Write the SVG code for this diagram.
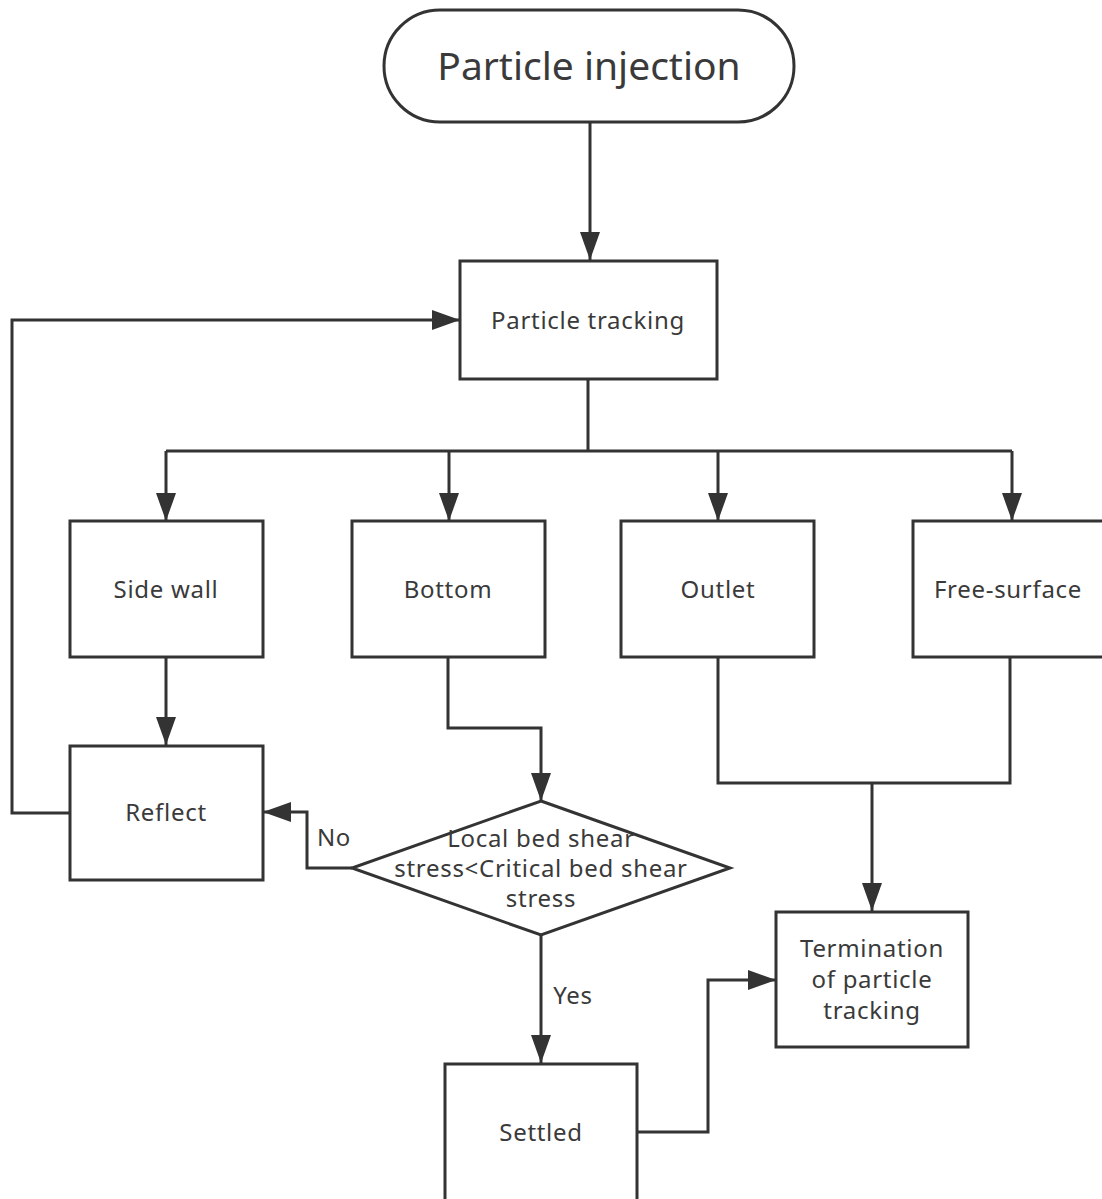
<svg xmlns="http://www.w3.org/2000/svg" width="1102" height="1199" viewBox="0 0 1102 1199">
<defs>
<style>
.box{fill:#fff;stroke:#333;stroke-width:3}
.ln{fill:none;stroke:#333;stroke-width:3}
.t{font-family:"Noto Sans","Open Sans","DejaVu Sans",sans-serif;font-size:24px;letter-spacing:0.7px;fill:#3a3a3a;text-anchor:middle}
.big{font-size:39px;letter-spacing:0px}
</style>
<marker id="arr" markerUnits="userSpaceOnUse" markerWidth="30" markerHeight="22" refX="28" refY="10" orient="auto">
<path d="M0,0 L28,10 L0,20 Z" fill="#333"/>
</marker>
</defs>
<rect width="1102" height="1199" fill="#fff"/>
<g id="connectors">
<path class="ln" d="M590,122 V260" marker-end="url(#arr)"/>
<path class="ln" d="M588,379 V451"/>
<path class="ln" d="M166,451 H1012"/>
<path class="ln" d="M166,451 V521" marker-end="url(#arr)"/>
<path class="ln" d="M449,451 V521" marker-end="url(#arr)"/>
<path class="ln" d="M718,451 V521" marker-end="url(#arr)"/>
<path class="ln" d="M1012,451 V521" marker-end="url(#arr)"/>
<path class="ln" d="M166,657 V745" marker-end="url(#arr)"/>
<path class="ln" d="M70,813 H12 V320 H460" marker-end="url(#arr)"/>
<path class="ln" d="M448,657 V728 H541 V801" marker-end="url(#arr)"/>
<path class="ln" d="M352,868 H307 V812 H263" marker-end="url(#arr)"/>
<path class="ln" d="M541,935 V1063" marker-end="url(#arr)"/>
<path class="ln" d="M718,657 V783 H1010 V657"/>
<path class="ln" d="M872,783 V911" marker-end="url(#arr)"/>
<path class="ln" d="M637,1132 H708 V980 H776" marker-end="url(#arr)"/>
<text class="t" x="334" y="846">No</text>
<text class="t" x="573" y="1004">Yes</text>
</g>
<g id="n_injection">
<rect class="box" x="384" y="10" width="410" height="112" rx="56"/>
<text class="t big" x="589" y="80">Particle injection</text>
</g>
<g id="n_tracking">
<rect class="box" x="460" y="261" width="257" height="118"/>
<text class="t" x="588" y="329">Particle tracking</text>
</g>
<g id="n_sidewall">
<rect class="box" x="70" y="521" width="193" height="136"/>
<text class="t" x="166" y="598">Side wall</text>
</g>
<g id="n_bottom">
<rect class="box" x="352" y="521" width="193" height="136"/>
<text class="t" x="448" y="598">Bottom</text>
</g>
<g id="n_outlet">
<rect class="box" x="621" y="521" width="193" height="136"/>
<text class="t" x="718" y="598">Outlet</text>
</g>
<g id="n_free">
<rect class="box" x="913" y="521" width="193" height="136"/>
<text class="t" x="1008" y="598">Free-surface</text>
</g>
<g id="n_reflect">
<rect class="box" x="70" y="746" width="193" height="134"/>
<text class="t" x="166" y="821">Reflect</text>
</g>
<g id="n_decision">
<path class="box" d="M541,801 L730,868 L541,935 L352,868 Z"/>
<text class="t" x="541" y="847">Local bed shear</text>
<text class="t" x="541" y="877">stress&lt;Critical bed shear</text>
<text class="t" x="541" y="907">stress</text>
</g>
<g id="n_settled">
<rect class="box" x="445" y="1064" width="192" height="140"/>
<text class="t" x="541" y="1141">Settled</text>
</g>
<g id="n_termination">
<rect class="box" x="776" y="912" width="192" height="135"/>
<text class="t" x="872" y="957">Termination</text>
<text class="t" x="872" y="988">of particle</text>
<text class="t" x="872" y="1019">tracking</text>
</g>
</svg>
